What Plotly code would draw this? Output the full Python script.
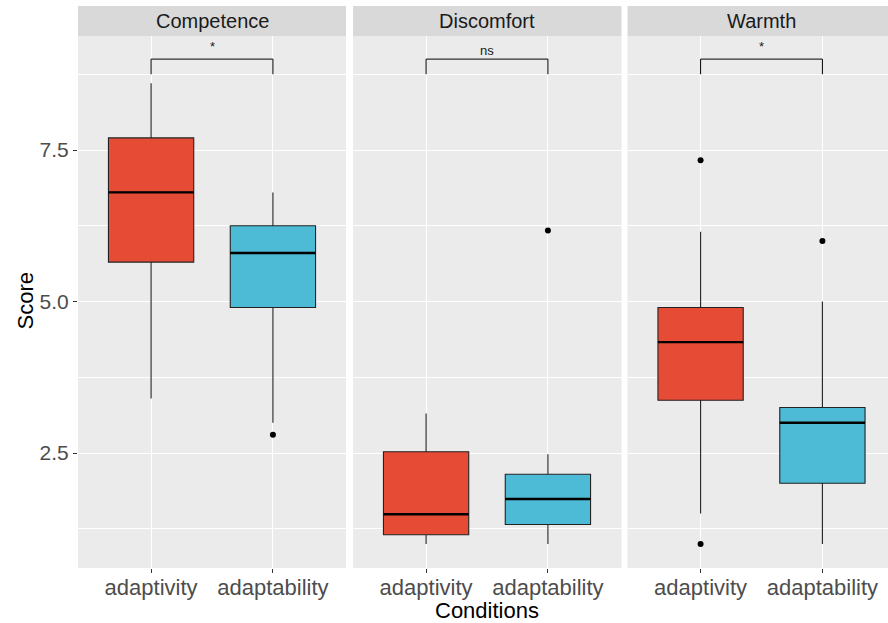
import plotly.graph_objects as go

# ---- data ----
facets = ["Competence", "Discomfort", "Warmth"]
conditions = ["adaptivity", "adaptability"]
colors = ["#E64B35", "#4DBBD5"]

# per facet: [adaptivity, adaptability]
lower_whisker = {"Competence": [3.4, 3.0], "Discomfort": [1.0, 1.0], "Warmth": [1.5, 1.0]}
q1 = {"Competence": [5.65, 4.9], "Discomfort": [1.15, 1.32], "Warmth": [3.37, 2.0]}
median = {"Competence": [6.8, 5.8], "Discomfort": [1.49, 1.74], "Warmth": [4.33, 3.0]}
q3 = {"Competence": [7.7, 6.25], "Discomfort": [2.52, 2.15], "Warmth": [4.9, 3.25]}
upper_whisker = {"Competence": [8.6, 6.8], "Discomfort": [3.15, 2.48], "Warmth": [6.15, 5.0]}
outliers = {
    "Competence": [[], [2.8]],
    "Discomfort": [[], [6.17]],
    "Warmth": [[7.33, 1.0], [6.0]],
}
sig_labels = ["*", "ns", "*"]
sig_label_y = [9.2, 9.15, 9.2]
bracket_y = 9.0
bracket_tip = 8.75

y_major = [2.5, 5.0, 7.5]
y_minor = [1.25, 3.75, 6.25, 8.75]

# ---- layout geometry (pixels) ----
W, H = 888, 623
panel_px = [(78, 346), (353, 621.5), (627.5, 888)]
unit_px = 268 / 2.2
top_px, bot_px = 36, 568
strip_top = 6
box_w = 0.7
FONT = "Liberation Sans, Arial"

fig = go.Figure()

for i, f in enumerate(facets):
    xa = "x" if i == 0 else f"x{i+1}"
    ya = "y" if i == 0 else f"y{i+1}"
    for j, c in enumerate(conditions):
        fig.add_trace(go.Box(
            x=[j], q1=[q1[f][j]], median=[median[f][j]], q3=[q3[f][j]],
            lowerfence=[lower_whisker[f][j]], upperfence=[upper_whisker[f][j]],
            width=box_w, fillcolor=colors[j], line=dict(color="#222222", width=1.1),
            whiskerwidth=0, boxpoints=False, showlegend=False,
            xaxis=xa, yaxis=ya, hoverinfo="skip",
        ))
        # thicker median line
        fig.add_trace(go.Scatter(
            x=[j - box_w / 2, j + box_w / 2], y=[median[f][j]] * 2,
            mode="lines", line=dict(color="black", width=2.4),
            showlegend=False, xaxis=xa, yaxis=ya, hoverinfo="skip",
        ))
        if outliers[f][j]:
            fig.add_trace(go.Scatter(
                x=[j] * len(outliers[f][j]), y=outliers[f][j], mode="markers",
                marker=dict(color="black", size=6), showlegend=False,
                xaxis=xa, yaxis=ya, hoverinfo="skip",
            ))
    # significance bracket
    fig.add_trace(go.Scatter(
        x=[0, 0, 1, 1], y=[bracket_tip, bracket_y, bracket_y, bracket_tip],
        mode="lines", line=dict(color="black", width=1),
        showlegend=False, xaxis=xa, yaxis=ya, hoverinfo="skip",
    ))
    fig.add_annotation(
        x=0.5, y=sig_label_y[i], xref=xa, yref=ya, text=sig_labels[i], showarrow=False,
        xanchor="center", yanchor="middle",
        font=dict(size=13, color="#1A1A1A", family=FONT),
    )

    # axes
    l, r = panel_px[i]
    x0 = l + 0.6 * unit_px
    xr = [-0.6, (r - x0) / unit_px]
    ax_common = dict(
        domain=[l / W, r / W], range=xr, tickvals=[0, 1], ticktext=conditions,
        showgrid=True, gridcolor="white", gridwidth=1.1, zeroline=False,
        ticks="outside", ticklen=4, tickcolor="#333333", tickwidth=1,
        ticklabelstandoff=-4,
        tickfont=dict(size=22, color="#4D4D4D", family=FONT),
        anchor=ya, showline=False, fixedrange=True,
    )
    y_range = [7.5 - (bot_px - 150) / 60.6, 7.5 + (150 - top_px) / 60.6]
    yax = dict(
        domain=[(H - bot_px) / H, (H - top_px) / H], range=y_range,
        tickvals=y_major, ticktext=[f"{v:.1f}" for v in y_major],
        showgrid=True, gridcolor="white", gridwidth=1.1, zeroline=False,
        minor=dict(tickvals=y_minor, showgrid=True, gridcolor="white", gridwidth=0.55, ticks=""),
        anchor=xa, showline=False, fixedrange=True,
        showticklabels=(i == 0),
        ticks="outside" if i == 0 else "", ticklen=4, tickcolor="#333333", tickwidth=1,
        tickfont=dict(size=21, color="#4D4D4D", family=FONT),
    )
    fig.layout["xaxis" if i == 0 else f"xaxis{i+1}"] = ax_common
    fig.layout["yaxis" if i == 0 else f"yaxis{i+1}"] = yax

    # strip
    fig.add_shape(type="rect", xref="paper", yref="paper",
                  x0=l / W, x1=r / W, y0=(H - top_px) / H, y1=(H - strip_top) / H,
                  fillcolor="#D9D9D9", line=dict(width=0), layer="below")
    fig.add_annotation(
        x=(l + 134) / W,
        y=(H - (strip_top + top_px) / 2) / H, xref="paper", yref="paper",
        text=f, showarrow=False, xanchor="center", yanchor="middle",
        font=dict(size=20, color="#1A1A1A", family=FONT),
    )

fig.add_annotation(x=24.5 / W, y=(H - 301) / H, xref="paper", yref="paper",
                   text="Score", textangle=-90, showarrow=False,
                   xanchor="center", yanchor="middle",
                   font=dict(size=22, color="black", family=FONT))
fig.add_annotation(x=487 / W, y=(H - 610) / H, xref="paper", yref="paper",
                   text="Conditions", showarrow=False,
                   xanchor="center", yanchor="middle",
                   font=dict(size=22, color="black", family=FONT))

fig.update_layout(
    width=W, height=H, margin=dict(l=0, r=0, t=0, b=0),
    paper_bgcolor="white", plot_bgcolor="#EBEBEB",
    showlegend=False,
)

fig.write_html("out.html")
